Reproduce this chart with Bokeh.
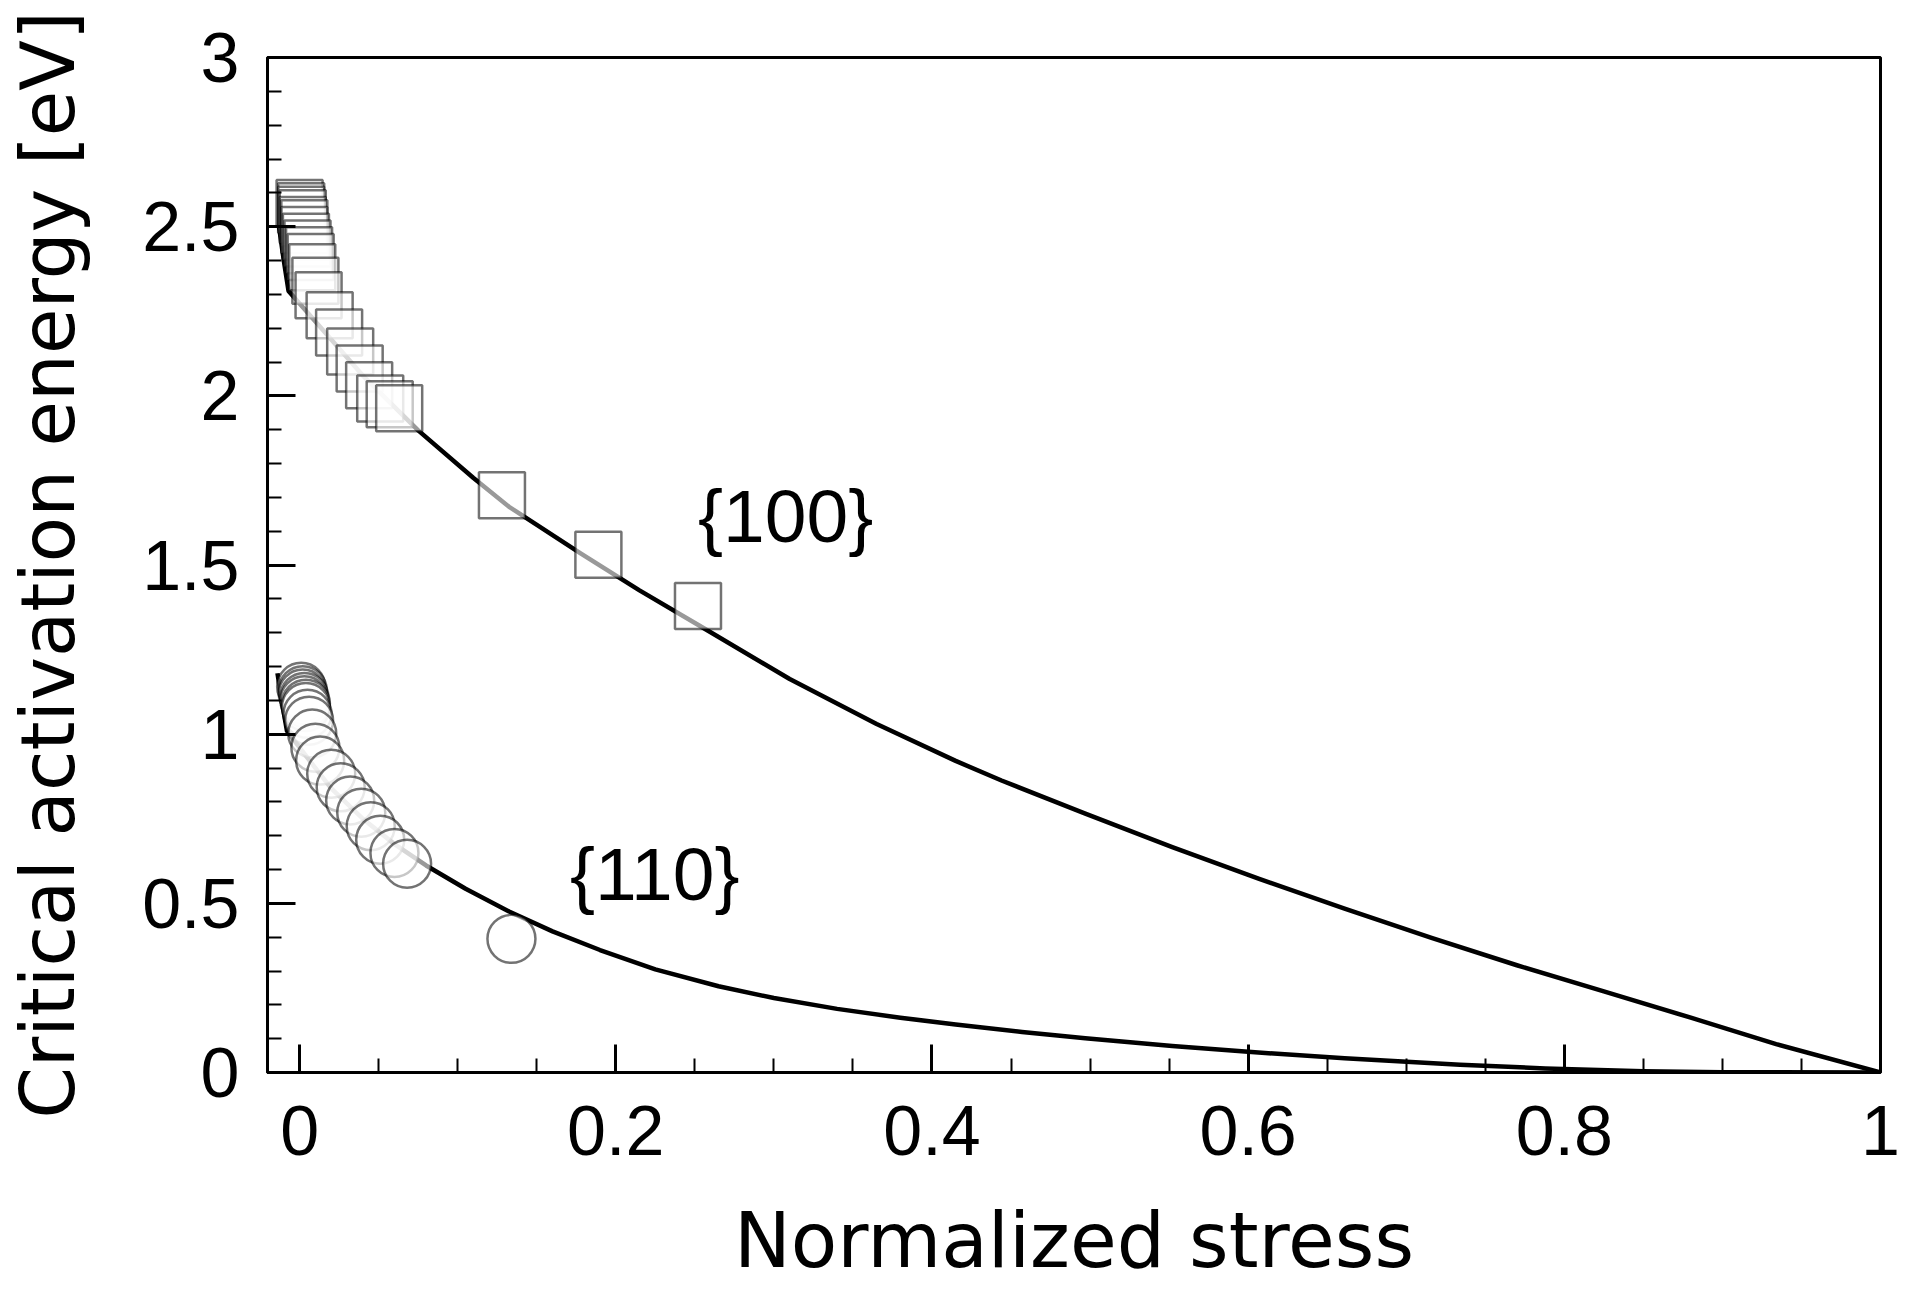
from bokeh.plotting import figure
from bokeh.models import FixedTicker, Range1d
from bokeh.core.properties import value
from bokeh.embed import file_html
from bokeh.resources import INLINE

# ---- data ----
# {100} fit curve
curve100_x = [-0.013, -0.010, -0.007, 0.010, 0.040, 0.075, 0.110, 0.1325, 0.1775, 0.215, 0.2525,
              0.31, 0.365, 0.415, 0.444, 0.497, 0.552, 0.607, 0.661, 0.716, 0.770, 0.825, 0.880, 0.934, 1.0]
curve100_y = [2.50, 2.40, 2.31, 2.22, 2.06, 1.898, 1.757, 1.672, 1.535, 1.425, 1.322,
              1.163, 1.030, 0.921, 0.863, 0.765, 0.666, 0.572, 0.484, 0.398, 0.317, 0.240, 0.162, 0.084, 0.0]

# {110} fit curve
curve110_x = [-0.014, -0.011, -0.008, 0.005, 0.020, 0.040, 0.060, 0.080, 0.105, 0.1325, 0.16, 0.19,
              0.225, 0.265, 0.30, 0.34, 0.38, 0.415, 0.457, 0.497, 0.552, 0.60, 0.661, 0.734, 0.788,
              0.85, 0.90, 1.0]
curve110_y = [1.18, 1.09, 1.01, 0.93, 0.84, 0.75, 0.675, 0.612, 0.543, 0.476, 0.417, 0.362,
              0.305, 0.255, 0.220, 0.188, 0.162, 0.142, 0.120, 0.101, 0.078, 0.061, 0.042, 0.023, 0.012,
              0.004, 0.001, 0.0]

# {100} simulation points (squares)
sq_x = [0.000, 0.001, 0.001, 0.002, 0.002, 0.003, 0.003, 0.004, 0.005, 0.006, 0.007, 0.008, 0.010,
        0.012, 0.019, 0.025, 0.032, 0.038, 0.044, 0.051, 0.057, 0.063, 0.128, 0.189, 0.252]
sq_y = [2.57, 2.56, 2.55, 2.54, 2.52, 2.51, 2.49, 2.47, 2.45, 2.43, 2.41, 2.38, 2.34,
        2.297, 2.238, 2.187, 2.131, 2.081, 2.031, 1.992, 1.975, 1.963, 1.706, 1.530, 1.379]

# {110} simulation points (circles)
ci_x = [0.001, 0.002, 0.002, 0.003, 0.003, 0.004, 0.004, 0.005, 0.006, 0.008, 0.010,
        0.013, 0.020, 0.026, 0.032, 0.039, 0.045, 0.051, 0.060, 0.068, 0.134]
ci_y = [1.14, 1.13, 1.12, 1.11, 1.10, 1.09, 1.08, 1.06, 1.04, 1.002, 0.96,
        0.922, 0.883, 0.843, 0.804, 0.768, 0.728, 0.688, 0.649, 0.617, 0.395]

label_text = ["{100}", "{110}"]
label_x = [0.252, 0.171]
label_y = [1.645, 0.588]

x_title = "Normalized stress"
y_title = "Critical activation energy [eV]"

x_major = [0, 0.2, 0.4, 0.6, 0.8, 1]
x_major_labels = ["0", "0.2", "0.4", "0.6", "0.8", "1"]
x_minor = [0.05, 0.1, 0.15, 0.25, 0.3, 0.35, 0.45, 0.5, 0.55, 0.65, 0.7, 0.75, 0.85, 0.9, 0.95]
y_major = [0, 0.5, 1, 1.5, 2, 2.5, 3]
y_major_labels = ["0", "0.5", "1", "1.5", "2", "2.5", "3"]
y_minor = [0.1, 0.2, 0.3, 0.4, 0.6, 0.7, 0.8, 0.9, 1.1, 1.2, 1.3, 1.4, 1.6, 1.7, 1.8, 1.9,
           2.1, 2.2, 2.3, 2.4, 2.6, 2.7, 2.8, 2.9]

# ---- figure ----
p = figure(width=1910, height=1300,
           x_range=Range1d(-0.0203, 1.0), y_range=Range1d(0, 3),
           output_backend="svg", toolbar_location=None,
           min_border_left=267, min_border_right=30, min_border_top=57, min_border_bottom=228)

p.background_fill_color = "white"
p.border_fill_color = "white"
p.outline_line_color = "black"
p.outline_line_width = 3
p.xgrid.visible = False
p.ygrid.visible = False

p.line(curve100_x, curve100_y, line_color="black", line_width=4.5, line_join="round")
p.line(curve110_x, curve110_y, line_color="black", line_width=4.5, line_join="round")

p.scatter(sq_x, sq_y, marker="square", size=46, fill_color="white", fill_alpha=0.6,
          line_color="black", line_alpha=0.55, line_width=2.5)
p.scatter(ci_x, ci_y, marker="circle", size=48, fill_color="white", fill_alpha=0.6,
          line_color="black", line_alpha=0.55, line_width=2.5)

p.text(x=label_x, y=label_y, text=label_text, text_font=value("Liberation Sans"),
       text_font_size="75px", text_color="black", text_align="left", text_baseline="alphabetic")

xa = p.xaxis[0]
xa.ticker = FixedTicker(ticks=x_major, minor_ticks=x_minor)
xa.major_label_overrides = dict(zip(x_major, x_major_labels))
xa.axis_label = x_title
ya = p.yaxis[0]
ya.ticker = FixedTicker(ticks=y_major, minor_ticks=y_minor)
ya.major_label_overrides = dict(zip(y_major, y_major_labels))
ya.axis_label = y_title

for ax in (xa, ya):
    ax.axis_line_color = "black"
    ax.axis_line_width = 3
    ax.major_tick_in = 28
    ax.major_tick_out = 0
    ax.minor_tick_in = 14
    ax.minor_tick_out = 0
    ax.major_tick_line_width = 3
    ax.minor_tick_line_width = 2
    ax.major_tick_line_color = "black"
    ax.minor_tick_line_color = "black"
    ax.major_label_text_font = "Liberation Sans"
    ax.major_label_text_font_size = "70px"
    ax.major_label_text_color = "black"
    ax.axis_label_text_font = "DejaVu Sans"
    ax.axis_label_text_font_style = "normal"
    ax.axis_label_text_color = "black"

xa.axis_label_text_font_size = "76px"
ya.axis_label_text_font_size = "74px"
xa.major_label_standoff = 33
xa.axis_label_standoff = 38
ya.major_label_standoff = 28
ya.axis_label_standoff = 48

open("out.html", "w").write(file_html(p, INLINE))
